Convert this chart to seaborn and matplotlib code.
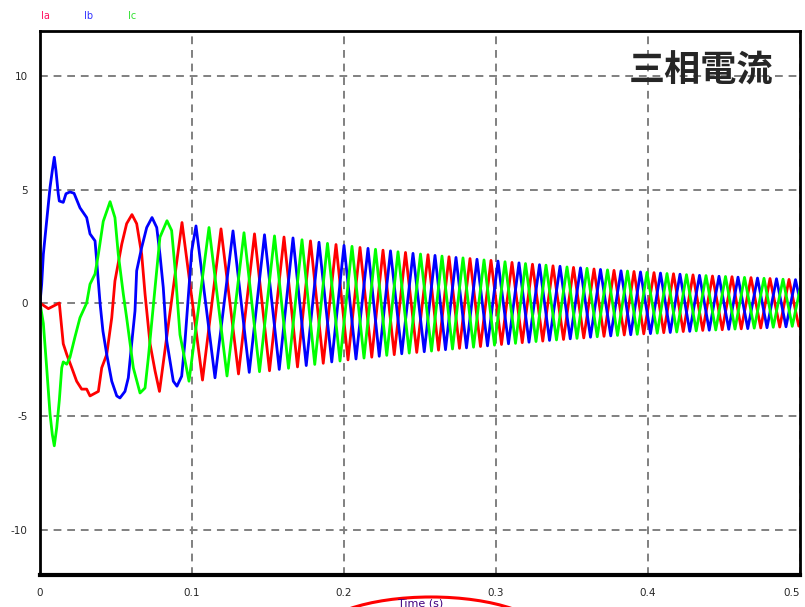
import numpy as np
import pandas as pd
import matplotlib
matplotlib.use("Agg")
import matplotlib.pyplot as plt
import seaborn as sns
from matplotlib.patches import Ellipse

sns.set_style("white")
plt.rcParams['font.family'] = ['DejaVu Sans']
plt.rcParams['axes.unicode_minus'] = False

# phase currents: time in ms, current in A
ia_t = [0, 5.5, 12.7, 15.3, 17.6, 20.9, 24.1, 27.4, 30.7, 32.9, 38.4, 40.6, 43.9, 47.2, 49.3,
        53.8, 57.0, 60.5, 63.6, 66.9, 69.1, 72.4, 75.7, 78.6,
        93.42, 106.91, 119.08, 130.59, 141.12, 150.99, 160.53, 169.41, 177.96, 186.35,
        194.74, 202.63, 210.53, 218.26, 225.66, 233.06, 240.46, 247.86, 255.26, 262.17,
        269.08, 275.99, 282.89, 289.80, 296.71, 303.62, 310.53, 317.27, 324.01, 330.76,
        337.50, 344.41, 350.99, 357.73, 364.47, 371.05, 377.63, 384.38, 390.79, 397.20,
        403.95, 410.36, 416.78, 423.19, 429.61, 436.02, 442.43, 448.85, 455.26, 461.35,
        467.76, 474.18, 480.26, 486.68, 492.76, 499.18, 500]
ia_v = [0.0, -0.25, 0.0, -1.8, -2.27, -2.86, -3.45, -3.8, -3.8, -4.1, -3.9, -2.86, -2.27, -0.65, 0.97,
        2.6, 3.5, 3.9, 3.5, 2.15, 0.4, -1.8, -3.0, -3.9,
        3.55, -3.40, 3.27, -3.13, 3.05, -2.99, 2.91, -2.82, 2.74, -2.66,
        2.58, -2.51, 2.45, -2.39, 2.33, -2.28, 2.23, -2.18, 2.13, -2.08,
        2.04, -2.00, 1.96, -1.92, 1.88, -1.83, 1.79, -1.75, 1.71, -1.68,
        1.64, -1.61, 1.57, -1.54, 1.50, -1.47, 1.44, -1.41, 1.39, -1.36,
        1.34, -1.31, 1.29, -1.26, 1.24, -1.21, 1.19, -1.18, 1.16, -1.14,
        1.12, -1.10, 1.08, -1.06, 1.04, -1.02, -0.98]

ib_t = [0, 1.1, 2.2, 4.4, 6.6, 8.1, 9.4, 10.5, 12.0, 12.7, 15.3, 17.1, 19.7, 22.4, 26.3,
        30.7, 32.9, 36.2, 37.3, 39.5, 41.4, 43.9, 47.2, 50.5, 52.6, 55.9, 58.1, 60.3, 62.5,
        63.6, 66.9, 70.2, 73.7, 76.8, 78.9, 81.1, 83.4, 87.7, 90.1, 93.2, 95.4, 99.8,
        102.63, 115.13, 126.97, 137.66, 147.70, 157.40, 166.45, 175.16, 183.55, 191.94,
        200.00, 207.89, 215.79, 223.19, 230.59, 237.99, 245.39, 252.80, 259.87, 266.78,
        273.68, 280.59, 287.50, 294.41, 301.32, 308.22, 315.13, 321.71, 328.62, 335.20,
        342.11, 348.85, 355.59, 362.17, 368.75, 375.49, 382.24, 388.65, 395.07, 401.64,
        408.22, 414.64, 421.05, 427.47, 433.88, 440.30, 446.71, 453.13, 459.21, 465.63,
        472.04, 478.29, 484.54, 490.79, 497.04, 500]
ib_v = [0.0, 0.83, 2.15, 3.63, 5.1, 5.84, 6.43, 5.84, 4.82, 4.5, 4.44, 4.82, 4.9, 4.84, 4.2,
        3.77, 3.05, 2.74, 1.86, 0.0, -1.24, -2.27, -3.45, -4.1, -4.19, -3.9, -3.3, -1.8, -0.35,
        1.42, 2.45, 3.33, 3.77, 3.33, 2.15, 0.68, -1.68, -3.45, -3.67, -3.23, -1.68, 2.3,
        3.40, -3.30, 3.18, -3.06, 3.01, -2.93, 2.87, -2.76, 2.68, -2.60,
        2.54, -2.47, 2.41, -2.35, 2.30, -2.24, 2.19, -2.15, 2.10, -2.06,
        2.01, -1.98, 1.93, -1.89, 1.85, -1.80, 1.77, -1.73, 1.69, -1.65,
        1.62, -1.58, 1.55, -1.51, 1.48, -1.45, 1.42, -1.40, 1.37, -1.35,
        1.32, -1.30, 1.27, -1.25, 1.22, -1.20, 1.18, -1.16, 1.14, -1.13,
        1.10, -1.09, 1.07, -1.05, 1.03, 0.10]

ic_t = [0, 2.2, 4.4, 6.6, 8.1, 9.4, 11.0, 12.7, 14.3, 15.3, 17.6, 19.7, 23.0, 26.3, 30.7,
        32.9, 36.2, 38.4, 41.6, 46.1, 49.3, 51.5, 54.8, 57.0, 61.4, 65.8, 69.1, 71.3, 75.7,
        78.9, 83.55, 86.6, 88.8, 92.1, 98.03,
        111.18, 123.03, 134.21, 144.41, 154.28, 163.49, 172.37, 180.76, 189.14, 197.37,
        205.26, 213.16, 220.72, 228.13, 235.53, 242.93, 250.33, 257.57, 264.47, 271.38,
        278.29, 285.20, 292.11, 299.01, 305.92, 312.83, 319.41, 326.32, 332.89, 339.80,
        346.71, 353.29, 359.87, 366.61, 373.36, 379.93, 386.51, 392.93, 399.34, 406.09,
        412.50, 418.91, 425.33, 431.74, 438.16, 444.57, 450.99, 457.24, 463.49, 469.90,
        476.32, 482.40, 488.82, 494.90, 500]
ic_v = [0.0, -0.9, -2.86, -4.9, -5.8, -6.3, -5.5, -4.3, -2.86, -2.6, -2.7, -2.4, -1.5, -0.65, 0.0,
        0.83, 1.28, 2.15, 3.6, 4.47, 3.77, 2.15, 0.4, -0.65, -2.86, -3.97, -3.75, -2.4, 0.68,
        2.9, 3.63, 3.2, 1.55, -1.4, -3.45,
        3.33, -3.22, 3.10, -3.03, 2.96, -2.88, 2.79, -2.71, 2.63, -2.56,
        2.50, -2.43, 2.37, -2.31, 2.26, -2.21, 2.16, -2.12, 2.07, -2.03,
        1.99, -1.95, 1.90, -1.86, 1.82, -1.78, 1.74, -1.70, 1.67, -1.63,
        1.59, -1.56, 1.53, -1.49, 1.46, -1.43, 1.41, -1.38, 1.35, -1.33,
        1.30, -1.28, 1.25, -1.23, 1.21, -1.19, 1.17, -1.15, 1.13, -1.11,
        1.09, -1.07, 1.05, -1.03, 0.60]

phases = ['Ia', 'Ib', 'Ic']
phase_colors = {'Ia': '#ff0000', 'Ib': '#0000ff', 'Ic': '#00ff00'}
label_colors = {'Ia': '#ff1060', 'Ib': '#3030ff', 'Ic': '#30e030'}
x_ticks = [0, 0.1, 0.2, 0.3, 0.4, 0.5]
x_ticklabels = ['0', '0.1', '0.2', '0.3', '0.4', '0.5']
y_ticks = [-10, -5, 0, 5, 10]

frames = []
for name, t, v in zip(phases, [ia_t, ib_t, ic_t], [ia_v, ib_v, ic_v]):
    frames.append(pd.DataFrame({'t': np.array(t) / 1000.0, 'i': v, 'phase': name}))
df = pd.concat(frames, ignore_index=True)

fig = plt.figure(figsize=(8.05, 6.07), dpi=100)
ax = fig.add_axes([40 / 805, 32 / 607, 760 / 805, 544 / 607])

sns.lineplot(data=df, x='t', y='i', hue='phase', palette=phase_colors,
             estimator=None, sort=False, legend=False, linewidth=2.0, ax=ax)

ax.set_xlim(0, 0.5)
ax.set_ylim(-12, 12)
ax.set_xticks(x_ticks)
ax.set_xticklabels(x_ticklabels)
ax.set_yticks(y_ticks)
ax.set_axisbelow(True)
ax.grid(True, color='#808080', linestyle=(0, (4, 3)), linewidth=1.4)
ax.tick_params(length=0, labelsize=7.5, pad=9)
ax.get_xticklabels()[-1].set_horizontalalignment('right')
ax.set_xlabel('')
ax.set_ylabel('')
for side in ['left', 'top', 'right']:
    ax.spines[side].set_color('black')
    ax.spines[side].set_linewidth(2)
ax.spines['bottom'].set_color('black')
ax.spines['bottom'].set_linewidth(3)

# legend labels along the top
for name, xpix in zip(phases, [45, 89, 132]):
    fig.text(xpix / 805, 1 - 16 / 607, name, color=label_colors[name],
             fontsize=7, ha='center', va='center')

# title inside the plot
fig.text(701 / 805, 1 - 71 / 607, '三相電流', fontsize=26, fontweight='bold',
         family=['Noto Sans CJK JP', 'DejaVu Sans'], ha='center', va='center')

# x axis label, circled in red
fig.text(421 / 805, 1 - 603 / 607, 'Time (s)', color='#400080', fontsize=8,
         ha='center', va='center')
fig.add_artist(Ellipse((431 / 805, (607 - 637) / 607), 230 / 805, 80 / 607,
                       transform=fig.transFigure, fill=False, edgecolor='red',
                       linewidth=2.2, clip_on=False))

fig.savefig('out.png', dpi=100)
